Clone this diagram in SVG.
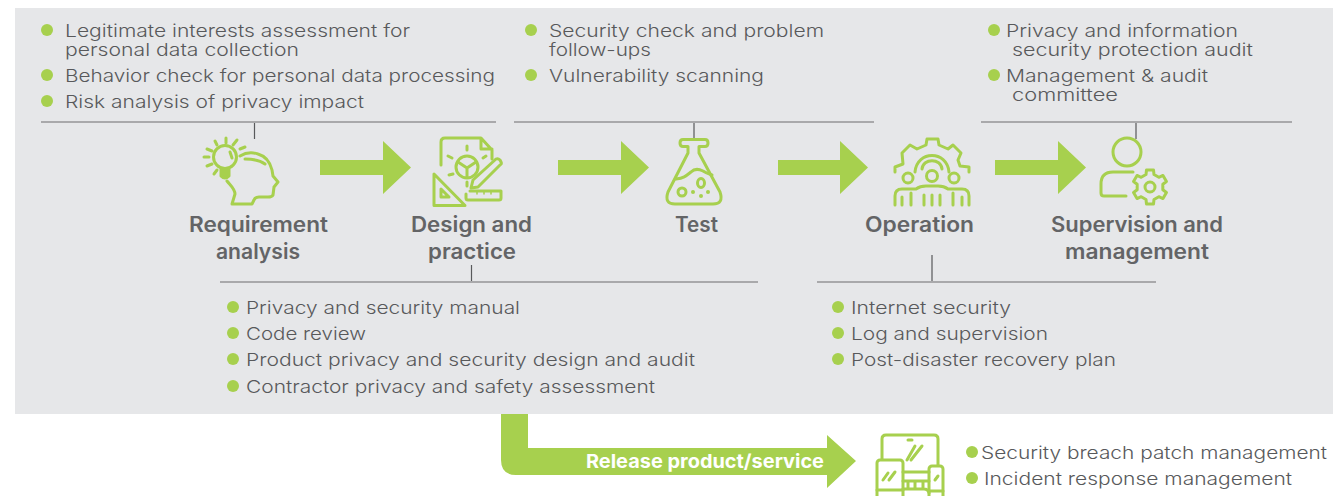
<svg xmlns="http://www.w3.org/2000/svg" width="1333" height="496" viewBox="0 0 1333 496">
<style>
text{lengthAdjust:spacingAndGlyphs}
.t{font-family:"Inter","Liberation Sans",sans-serif;font-size:17.5px;font-weight:300;fill:#58595b}
.h{font-family:"Inter","Liberation Sans",sans-serif;font-size:21px;font-weight:600;fill:#636466}
.r{fill:#a9a9ab}
.v{stroke:#58595b;stroke-width:1.2;fill:none}
.d{fill:#a7d04e}
.i{fill:none;stroke:#a7d04e;stroke-width:3;stroke-linecap:round;stroke-linejoin:round}
.f{fill:#a7d04e}
</style>
<rect x="15" y="8" width="1318" height="406" fill="#e6e7e9"/>
<g id="connectors">
<path class="f" d="M320 160H383V141L411 167.500L383 194V175H320Z"/>
<path class="f" d="M558 160H621V141L649 167.500L621 194V175H558Z"/>
<path class="f" d="M778 160H840V141L868 167.500L840 194V175H778Z"/>
<path class="f" d="M995 160H1058V141L1086 167.500L1058 194V175H995Z"/>
<path class="f" d="M501 414H528V448H827V435L856 461L827 488V475H516Q501 475 501 460Z"/>
<rect class="r" x="41" y="121" width="455" height="2"/>
<rect class="r" x="514" y="121" width="360" height="2"/>
<rect class="r" x="981" y="121" width="311" height="2"/>
<rect class="r" x="220" y="281" width="538" height="2"/>
<rect class="r" x="817" y="281" width="339" height="2"/>
<path class="v" d="M254.500 123V139M694 123V139M1136 123V139M471.500 265V281M932 255V281"/>
</g>
<g id="notes-requirement">
<circle class="d" cx="47" cy="30" r="6"/><circle class="d" cx="47" cy="75" r="6"/><circle class="d" cx="47" cy="101" r="6"/>
<text class="t" x="65" y="37" textLength="345" lengthAdjust="spacingAndGlyphs">Legitimate interests assessment for</text>
<text class="t" x="65" y="56" textLength="234" lengthAdjust="spacingAndGlyphs">personal data collection</text>
<text class="t" x="65" y="82" textLength="430" lengthAdjust="spacingAndGlyphs">Behavior check for personal data processing</text>
<text class="t" x="65" y="108" textLength="299" lengthAdjust="spacingAndGlyphs">Risk analysis of privacy impact</text>
</g>
<g id="notes-test">
<circle class="d" cx="531" cy="30" r="6"/><circle class="d" cx="531" cy="75" r="6"/>
<text class="t" x="549" y="37" textLength="275" lengthAdjust="spacingAndGlyphs">Security check and problem</text>
<text class="t" x="549" y="56" textLength="102" lengthAdjust="spacingAndGlyphs">follow-ups</text>
<text class="t" x="549" y="82" textLength="215" lengthAdjust="spacingAndGlyphs">Vulnerability scanning</text>
</g>
<g id="notes-supervision">
<circle class="d" cx="994" cy="30" r="6"/><circle class="d" cx="994" cy="75" r="6"/>
<text class="t" x="1006" y="37" textLength="232" lengthAdjust="spacingAndGlyphs">Privacy and information</text>
<text class="t" x="1012" y="56" textLength="241" lengthAdjust="spacingAndGlyphs">security protection audit</text>
<text class="t" x="1006" y="82" textLength="202" lengthAdjust="spacingAndGlyphs">Management &amp; audit</text>
<text class="t" x="1012" y="101" textLength="106" lengthAdjust="spacingAndGlyphs">committee</text>
</g>
<g id="notes-design">
<circle class="d" cx="233" cy="307" r="6"/><circle class="d" cx="233" cy="333" r="6"/><circle class="d" cx="233" cy="359" r="6"/><circle class="d" cx="233" cy="386" r="6"/>
<text class="t" x="246" y="314" textLength="274" lengthAdjust="spacingAndGlyphs">Privacy and security manual</text>
<text class="t" x="246" y="340" textLength="120" lengthAdjust="spacingAndGlyphs">Code review</text>
<text class="t" x="246" y="366" textLength="449" lengthAdjust="spacingAndGlyphs">Product privacy and security design and audit</text>
<text class="t" x="246" y="393" textLength="409" lengthAdjust="spacingAndGlyphs">Contractor privacy and safety assessment</text>
</g>
<g id="notes-operation">
<circle class="d" cx="838" cy="307" r="6"/><circle class="d" cx="838" cy="333" r="6"/><circle class="d" cx="838" cy="359" r="6"/>
<text class="t" x="851" y="314" textLength="160" lengthAdjust="spacingAndGlyphs">Internet security</text>
<text class="t" x="851" y="340" textLength="197" lengthAdjust="spacingAndGlyphs">Log and supervision</text>
<text class="t" x="851" y="366" textLength="265" lengthAdjust="spacingAndGlyphs">Post-disaster recovery plan</text>
</g>
<g id="notes-release">
<circle class="d" cx="972" cy="452" r="6"/><circle class="d" cx="972" cy="478" r="6"/>
<text class="t" x="981" y="459" textLength="346" lengthAdjust="spacingAndGlyphs">Security breach patch management</text>
<text class="t" x="984" y="485" textLength="308" lengthAdjust="spacingAndGlyphs">Incident response management</text>
</g>
<g id="node-requirement">
<path class="i" d="M240 156C245 153 252 152 258 154C265 156 270 162 272 170L273 176L278 182L274 187L273 195Q272 197 268 197H259Q255 197 254 200L252 204H232L235 194C235 189 231 186 227 181"/>
<path class="i" d="M245 159C253 159 261 161 265 164"/>
<circle class="i" cx="225" cy="157" r="11.500"/>
<path class="i" d="M221 169V176Q225 180 229 176V169" style="fill:#a7d04e"/>
<path class="i" d="M230 152L232 158M204 157H209M207 149L212 151M207 166L212 164M214 174L217 170M215 141L217 145M226 138V143M233 145L237 140M240 149L245 147"/>
</g>
<g id="node-design">
<path class="i" d="M441 165V142Q441 138 445 138H481L492 150V159M481 138V149H492"/>
<path class="i" d="M434 174V205.500H465ZM441 189V197H449Z"/>
<path class="i" d="M473 180L496 159Q498 158 500 160L501 162Q502 164 500 165L478 187L471 188Z"/>
<circle class="i" cx="467" cy="167" r="11"/>
<path class="i" d="M467 168V177M467 168L458 162M467 168L476 162"/>
<path class="i" d="M467 146V150M448 156L452 158M483 158L486 156M449 175L453 174M467 182V186"/>
<path class="i" d="M466 194V198Q466 200 468 200H499Q501 200 501 198V191H470"/>
<path class="i" d="M477 192V194M484 192V194M491 192V194" style="stroke-width:1.500"/>
</g>
<g id="node-test">
<path class="i" d="M683 139.500H705Q708 139.500 708 143Q708 146.500 705 146.500H699V153L720 192Q724 204 713 204H675Q664 204 668 192L688 153V146.500H683Q680 146.500 680 143Q680 139.500 683 139.500Z"/>
<path class="i" d="M676 179C684 178 686 176 691 172C695 168 699 169 703 171C706 173 709 174 712 175"/>
<circle class="i" cx="682" cy="192" r="4"/>
<ellipse class="i" cx="701" cy="183" rx="3.500" ry="4.500"/>
<circle class="f" cx="693" cy="192" r="2"/><circle class="f" cx="701" cy="196" r="2"/><circle class="f" cx="708" cy="192" r="2"/>
</g>
<g id="node-operation">
<path class="i" d="M895 172V167L903 164L902 153L910 145L917 149L926 145L927 139H938L939 145L948 149L953 145L961 153L958 160L960 166L969 167V172"/>
<path class="i" d="M915 172C917 150 947 150 949 172M922 169C923 158 941 158 942 169"/>
<circle class="i" cx="908" cy="178" r="5"/><circle class="i" cx="932" cy="176" r="5.500"/><circle class="i" cx="954" cy="178" r="5"/>
<path class="i" d="M895 205V196Q895 189 902 189H916Q920 186 926 186H938Q944 186 948 189H962Q969 189 969 196V205"/>
<path class="i" d="M902 197V205M911 193V205M924 195V205M932 195V205M940 195V205M953 193V205M962 197V205"/>
</g>
<g id="node-supervision">
<circle class="i" cx="1127" cy="152" r="14"/>
<path class="i" d="M1133 172H1113Q1101 172 1101 184V193Q1101 196 1104 196H1126"/>
<path class="i" transform="translate(1150 187)" d="M-4-12.500L-3.500-17H3.500L4-12.500L8.830-9.710L12.970-11.530L16.470-5.470L12.830-2.790V2.790L16.470 5.470L12.970 11.530L8.830 9.710L4 12.500L3.500 17H-3.500L-4 12.500L-8.830 9.710L-12.970 11.530L-16.470 5.470L-12.830 2.790V-2.790L-16.470-5.470L-12.970-11.530L-8.830-9.710Z"/>
<circle class="i" cx="1150" cy="187" r="5"/>
</g>
<g id="node-product">
<path class="i" d="M882 459V439Q882 435 886 435H934Q938 435 938 439V465"/>
<path class="i" d="M908 440H912M907 460L915 446M911 460L922 446"/>
<rect class="i" x="877" y="460" width="26" height="40" rx="3"/>
<path class="i" d="M883 480L888 473M889 480L895 472M877 490H903"/>
<rect class="i" x="929" y="466" width="14" height="34" rx="3"/>
<path class="i" d="M935 480L938 476M929 491H943"/>
<path class="i" d="M903 472H929M903 481H929M908 481V489M915 481V489M923 481V489M903 489H924Q928 489 929 493"/>
</g>
<g id="labels">
<text class="h" x="189" y="232" textLength="139" lengthAdjust="spacingAndGlyphs">Requirement</text>
<text class="h" x="216" y="259" textLength="84" lengthAdjust="spacingAndGlyphs">analysis</text>
<text class="h" x="411" y="232" textLength="121" lengthAdjust="spacingAndGlyphs">Design and</text>
<text class="h" x="428" y="259" textLength="88" lengthAdjust="spacingAndGlyphs">practice</text>
<text class="h" x="675" y="232" textLength="43" lengthAdjust="spacingAndGlyphs">Test</text>
<text class="h" x="865" y="232" textLength="109" lengthAdjust="spacingAndGlyphs">Operation</text>
<text class="h" x="1051" y="232" textLength="172" lengthAdjust="spacingAndGlyphs">Supervision and</text>
<text class="h" x="1065" y="259" textLength="144" lengthAdjust="spacingAndGlyphs">management</text>
<text x="586" y="468" textLength="238" lengthAdjust="spacingAndGlyphs" style="font-family:Inter,'Liberation Sans',sans-serif;font-size:19px;font-weight:700;fill:#fff">Release product/service</text>
</g>
</svg>
